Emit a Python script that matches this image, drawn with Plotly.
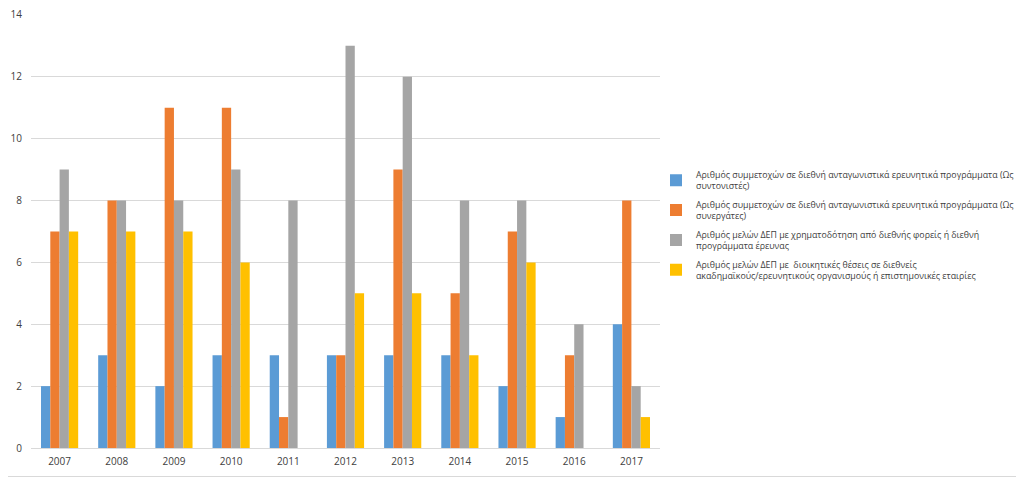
import plotly.graph_objects as go

years = ["2007", "2008", "2009", "2010", "2011", "2012", "2013", "2014", "2015", "2016", "2017"]
coordinators = [2, 3, 2, 3, 3, 3, 3, 3, 2, 1, 4]
partners = [7, 8, 11, 11, 1, 3, 9, 5, 7, 3, 8]
funded = [9, 8, 8, 9, 8, 13, 12, 8, 8, 4, 2]
admin = [7, 7, 7, 6, 0, 5, 5, 3, 6, 0, 1]

names = [
    "Αριθμός συμμετοχών σε διεθνή ανταγωνιστικά ερευνητικά προγράμματα (Ως<br>συντονιστές)",
    "Αριθμός συμμετοχών σε διεθνή ανταγωνιστικά ερευνητικά προγράμματα (Ως<br>συνεργάτες)",
    "Αριθμός μελών ΔΕΠ με χρηματοδότηση από διεθνής φορείς ή διεθνή<br>προγράμματα έρευνας",
    "Αριθμός μελών ΔΕΠ με  διοικητικές θέσεις σε διεθνείς<br>ακαδημαϊκούς/ερευνητικούς οργανισμούς ή επιστημονικές εταιρίες",
]
colors = ["#5B9BD5", "#ED7D31", "#A5A5A5", "#FFC000"]
series = [coordinators, partners, funded, admin]
y_range = [0, 14.03]

fig = go.Figure()
for i, (n, c, s) in enumerate(zip(names, colors, series)):
    fig.add_trace(go.Bar(x=years, y=s, name=n, legendgroup=f"g{i}",
                         marker=dict(color=c, line=dict(width=0))))

# page is offset by the default 8px body margin; margins compensate
ML, MR, MB = 23, 372, 37
UNIT = 30.9  # px per unit, so that the top label stays inside the page
PH = UNIT * y_range[1]
MT = 477 - MB - PH
PW = 1024 - ML - MR

fig.update_layout(
    width=1024, height=477,
    barmode="group", bargap=0.35, bargroupgap=0,
    plot_bgcolor="white", paper_bgcolor="white",
    margin=dict(l=ML, r=MR, t=MT, b=MB, autoexpand=False),
    font=dict(family="Open Sans, Liberation Sans, sans-serif", size=10, color="#404040"),
    xaxis=dict(showgrid=False, showline=True, linecolor="#D9D9D9", linewidth=1,
               ticks="", automargin=False, ticklabelstandoff=4,
               tickfont=dict(size=10, color="#404040")),
    yaxis=dict(range=y_range, tickvals=[0, 2, 4, 6, 8, 10, 12, 14], showgrid=True,
               gridcolor="#D9D9D9", gridwidth=1, ticklabeloverflow="allow",
               zeroline=False, showline=False, ticks="", automargin=False,
               ticklabelstandoff=8, tickfont=dict(size=10, color="#404040")),
    legend=dict(x=1.0, xanchor="left", y=(440 - 217.5) / PH, yanchor="middle",
                font=dict(size=8.8, color="#404040"), itemwidth=30, indentation=-4,
                tracegroupgap=4, bgcolor="rgba(0,0,0,0)"),
    showlegend=True,
    shapes=[
        dict(type="line", xref="paper", yref="paper",
             x0=-ML / PW, x1=(1024 - ML) / PW, y0=-(MB - 8.5) / PH, y1=-(MB - 8.5) / PH,
             line=dict(color="#D9D9D9", width=1)),
        dict(type="line", xref="paper", yref="paper",
             x0=(1015.5 - ML) / PW, x1=(1015.5 - ML) / PW, y0=-(MB - 8.5) / PH, y1=(PH + MT) / PH,
             line=dict(color="#D9D9D9", width=1)),
    ],
)

fig.write_html("out.html")
